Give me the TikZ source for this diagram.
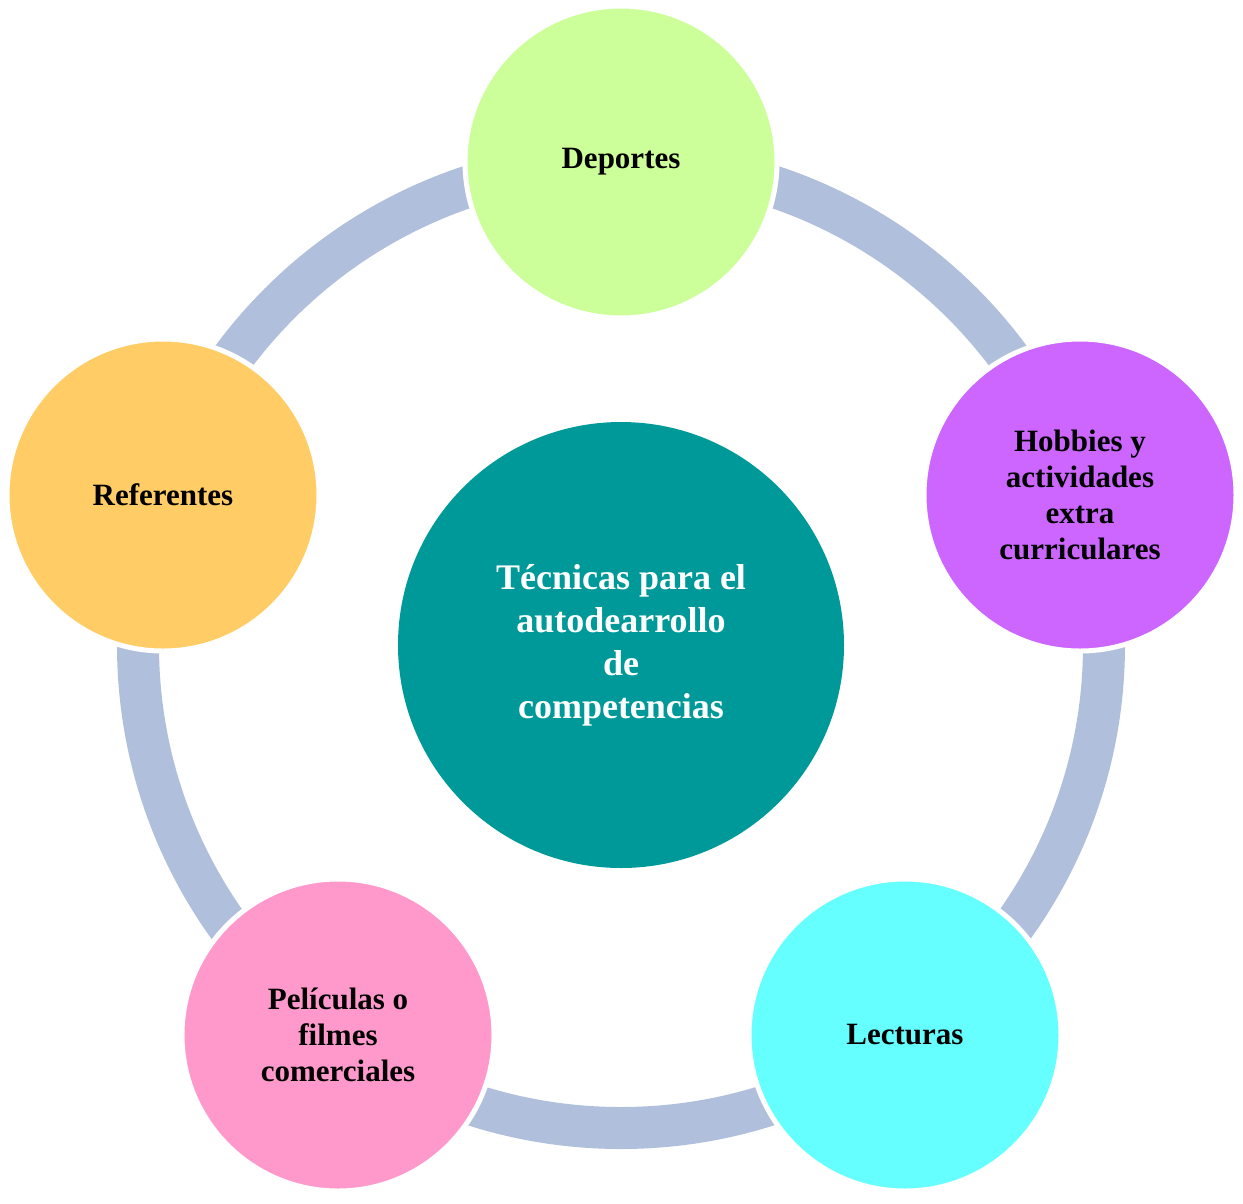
\documentclass[tikz,border=0pt]{standalone}
\usepackage{fontspec}
\setmainfont{Liberation Serif}
\begin{document}
\begin{tikzpicture}[x=1pt,y=-1pt,
  sat/.style={circle,minimum size=312pt,draw=white,line width=5pt,font=\bfseries\fontsize{31}{36}\selectfont,align=center,text=black,inner sep=0pt}]
\useasboundingbox (0,0) rectangle (1243,1203);
\draw[line width=42pt,color={rgb,255:red,176;green,192;blue,220}] (621,645) circle[radius=483];
\node[circle,minimum size=446pt,fill={rgb,255:red,0;green,153;blue,153},text=white,align=center,font=\bfseries\fontsize{36}{43}\selectfont] (c) at (621,645) {Técnicas para el\\autodearrollo\\de\\competencias};
\node[sat,fill={rgb,255:red,204;green,255;blue,153}] (d) at (621,162) {Deportes};
\node[sat,fill={rgb,255:red,204;green,102;blue,255}] (h) at (1080,495) {Hobbies y\\actividades\\extra\\curriculares};
\node[sat,fill={rgb,255:red,102;green,255;blue,255}] (l) at (905,1035) {Lecturas};
\node[sat,fill={rgb,255:red,255;green,153;blue,204}] (p) at (338,1035) {Películas o\\filmes\\comerciales};
\node[sat,fill={rgb,255:red,255;green,204;blue,102}] (r) at (163,495) {Referentes};
\end{tikzpicture}
\end{document}
